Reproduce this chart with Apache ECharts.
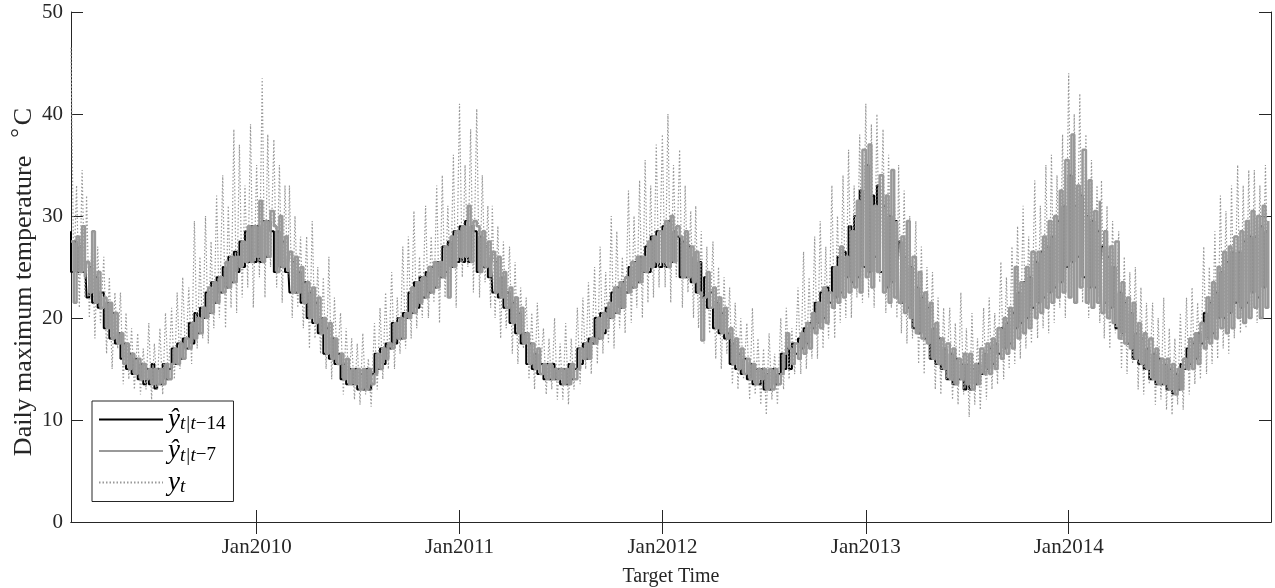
<!DOCTYPE html>
<html>
<head>
<meta charset="utf-8">
<script src="https://cdn.jsdelivr.net/npm/echarts@6/dist/echarts.min.js"></script>
<style>
  html, body { margin: 0; padding: 0; background: #fff; }
  #main { width: 1275px; height: 588px; }
</style>
</head>
<body>
<div id="main"></div>
<script>
// 数据从 2009 年 2 月开始, 每个月读 6 个点 (1,6,11,16,21,26 日)
var startYear = 2009, startMonth = 1;
var dayOffsets = [1, 6, 11, 16, 21, 26];
var yearTicks = [2010, 2011, 2012, 2013, 2014];

// 提前 14 天的预测 (黑线)
var yhat14 = [
  28.5,24.5,27.5,24.5,27,24.5, 26,22,25,21.5,24,21, 22.5,19,21.5,18,20.5,17.5, 18.5,16,17.5,15,16.5,14.5,
  16,14,15.5,13.5,15,13.5, 15.5,13.1,15,13.5,15.5,14, 15,17,15.5,17.5,16,18, 17,19.5,17.5,20.5,18.5,21,
  20,22.5,20.5,23.5,21.5,24, 22.5,25,23,26,23.5,26.5, 24.5,27.5,25,28.5,25.5,29,
  // 2010
  25.5,29,25.5,29.5,26,29.5, 28.5,24.5,28.5,25,27.5,24.5, 26,22.5,25.5,22.5,24.5,21.5, 23.5,20,22.5,19.5,21.5,18.5,
  20,16.5,19,16,18,15.5, 16.5,14,15.5,13.5,15,13.5, 15,13,14.5,13,15,13, 14.5,16.5,15,17,15.5,17.5,
  17,19.5,17.5,20,18,20.5, 20,22.5,20.5,23.5,21,24, 22,24.5,22.5,25,23,25.5, 24,27,24.5,27.5,25,28.5,
  // 2011
  25.5,29,25.5,29.5,25.5,29, 28.5,24.5,28,25,27,24, 26,22.5,25.5,22,24,21, 22.5,19.5,21.5,18.5,20.5,17.5,
  18.5,15.5,17.5,15,16.5,14.5, 15.5,14,15.5,14,15.5,14, 15,13.5,15,13.5,15.5,14, 15,17,15.5,17.5,16,18,
  17.5,20,18,20.5,18.5,21, 20,22.5,20.5,23,21,23.5, 22.5,25,23,25.5,23.5,26, 24.5,27,24.5,28,25,28.5,
  // 2012
  25,29,25,29.5,25.5,28.5, 28,24,27.5,24,27,23.5, 26,22.5,25.5,22,24,21, 22.5,19,21.5,18.5,20.5,18,
  18.5,15.5,17.5,15,16.5,14.5, 16,14,15.5,13.5,15,13.5, 15,13,14.5,13,15,13.5, 14.5,16.5,15,17,15,17.5,
  16.5,18,17,19,17.5,19.5, 19,21.5,19.5,22.5,20,23, 21.5,25,22,26,22.5,26.5, 24,29,23.5,30,24,32.5,
  // 2013
  25,35,24.5,32,26,33, 24.5,31,23,30,23.5,29.5, 22.5,27.5,21.5,26,21,25, 19,23,18.5,22,18,21,
  16,19,15.5,18,15,17, 14,16.5,13.5,16,14,15.5, 13,15.5,13,15,13.5,15.5, 14.5,16.5,15,17,15.5,17.5,
  16.5,19,17,19.5,17.5,20.5, 19,22.5,19.5,23.5,20,24, 21,25.5,21.5,26.5,22,27, 22.5,28,23,29.5,23.5,31,
  // 2014
  25,34,25.5,31,26,32, 24,30,23,29.5,23,28.5, 22,27,21.5,26,21,25, 19,22.5,18.5,21.5,17.5,20.5,
  16,18.5,15.5,18,15,17, 14,16.5,13.5,16,13.5,15.5, 13,15,12.6,14.5,13,15.5, 15,17,15.5,17.5,16,18.5,
  17.5,20.5,18,21.5,18.5,22.5, 20,24.5,20,25.5,20.5,26.5, 21.5,26.5,21,27.5,21.5,28, 22.5,28,22,29,23,28.5
];

// 提前 7 天的预测 (灰线)
var yhat7 = [
  27.5,21.5,28,24.5,29,24, 25.5,22.5,28.5,21.5,24.5,21, 22,19,21.5,18,20.5,17.5, 18.5,15.5,17.5,15,16.5,14.5,
  16,14,15.5,14,15,13.5, 15,13.5,15,13.5,15.5,14, 15.5,17,15.5,17.5,16,18, 17,19.5,18,20,18.5,21,
  20,23,20.5,23.5,21.5,24, 22.5,25.5,23,26,23.5,26, 25,27.5,25.5,29,25.5,29,
  // 2010
  26,31.5,25.5,29.5,26,30.5, 29,24.5,30,25,28,24.5, 26.5,22.5,26,22.5,25,21.5, 23.5,20,23,19.5,22,18.5,
  20,16.5,19.5,16,18,15.5, 16.5,14,16,13.5,15,13.5, 15,13,15,13,15,13.5, 14.5,16.5,15,17,16,17.5,
  17,19.5,18,20,18,20.5, 20,23,20.5,23.5,21.5,24, 22,25,22.5,25.5,23,25.5, 24,27,22,28,25,28.5,
  // 2011
  26,29,26,31,25.5,29.5, 29,24.5,28.5,25,27.5,24, 26.5,22.5,26,22,24.5,21, 23,19.5,22,18.5,21,17.5,
  18.5,15.5,17.5,15,17,14.5, 15.5,14,15.5,14,15,14, 15,13.5,15,13.5,15.5,14, 15,17,16,17.5,16,18,
  17.5,20,18,20.5,19,21.5, 20,23,20.5,23.5,21,24, 22.5,25.5,23,26,23.5,26, 24.5,27.5,25,28,25.5,28.5,
  // 2012
  25.5,29.5,25,30,25.5,29, 28,24,28.5,24,27,23.5, 26.5,22.5,17.8,22,24.5,21, 23,19,22,18.5,21,18,
  19,15.5,18,15,17,14.5, 16,14,15.5,13.5,15,14, 15,13,15,13,15,13.5, 14.5,16.5,18.5,17,15.5,17.5,
  16,18.5,16.5,19.5,17,20.5, 18.5,21.5,19,23,19.5,22.5, 21,25,21.5,27,22,26, 22.5,28.5,23,31.5,22.5,36.5,
  // 2013
  24,37,23,31,24.5,34, 22.5,32,21.5,34.5,22,29.5, 21.5,28,20.5,29.5,20,26, 18.5,24.5,18,22.5,17.5,21.5,
  16,19.5,15.5,18,15,17.5, 14,17,13.5,16,14,16.5, 13.5,16.5,13,15.5,13.5,17, 14.5,17.5,14.5,18,15,19,
  16,20,16.5,21,17,25, 18,23.5,18.5,25,19,26.5, 20,26.5,20.5,28,21,29.5, 21.5,30,22,32.5,22.5,35.5,
  // 2014
  22,38,21.5,33,23,36.5, 21.5,33.5,21,30.5,21.5,31.5, 20.5,28.5,20,27,19.5,27.5, 18,23.5,17.5,22,17,21.5,
  16,19.5,15.5,18.5,15,18, 14,17,13.5,16,13.5,16, 13,15.5,12.5,15,13,16, 15,18,15,18.5,15.5,19.5,
  17,22,17.5,23.5,18,25, 19,26.5,18.5,27,19,28, 20,28.5,19.5,29.5,20,30.5, 21,30,20,31,21,29.5
];

// 实测值 (灰色点线)
var yt = [
  46.5,24,33,21,34.5,22, 32,20,28.5,18,27,19.5, 26,16.5,24,15,22.5,17, 22.5,13.5,20.5,14,19,13,
  18.5,12.5,17,13,19.5,12, 17.5,13,19,12.5,20.5,14, 21,14,22.5,15,24,16, 23,15.5,29.5,17,26,18,
  30,17.5,27.5,19,32,20, 34,19,31,21,38.5,20.5, 37,22,33,23,39,21,
  // 2010
  35,24,43.5,22,38,25, 37.5,23,35,21.5,33,24, 33,20,30,21,28,19, 28,17,29.5,18,25,16.5,
  24,15,26,14,22,15.5, 20.5,12.5,19,13.5,18,12, 17.5,11.5,18.5,12.5,16,11.3, 19.5,13,21,14,22.5,15,
  24.5,15,22,16.5,27,17, 28,18,30.5,19,26,20, 31,20,28,21.5,33,19.5, 34,22,31,23,36,21,
  // 2011
  41,24,35,25,38.5,22.5, 40.5,22,34,23.5,31,21, 31,20,29,18,27.5,19, 27,16.5,25.5,15.5,23,17,
  22,14,20.5,13,21.5,14.5, 19,12.5,18,13,20,12, 17.5,12,19.5,11.5,18,13, 21,13.5,22,15,23.5,14.5,
  25,15.5,27,16.5,24.5,17.5, 30,17,28.5,19,26,18.5, 32.5,19.5,30,21,33.5,20, 35.5,21.5,33,22,37,23,
  // 2012
  38,23,40,21.5,35,24, 36.5,21,33,22.5,30.5,20, 31,19,28.5,17.5,27,18.5, 27.5,16,25,15,24,16.5,
  23,13.5,21.5,13,20,14, 19.5,12,21,12.5,18,11.5, 17,10.5,18.5,12,16.5,11.5, 20,13,21,14,19,14.5,
  23,14.5,26.5,15,24,16, 28,16,29.5,17,27,18, 33,18,30,19.5,34,20, 36.5,20,33,22,38,21.5,
  // 2013
  41,22,39,21,40,23.5, 38.5,20.5,36,21,34,20, 35,18.5,32.5,17.5,30,18, 29.5,15.5,27,14.5,25,16,
  24.5,13,22,12.5,21,14, 21,12,19.5,11.5,22.5,12.5, 19,10.3,20.5,11.5,18,11, 21,12,22,13,20.5,13.5,
  25.5,14,24,15,27,15.5, 29,16,31,17,28,17.5, 33.5,18,31,19,35,18.5, 36,19.5,34,21,38,20,
  // 2014
  44,22,40,23,42,21.5, 38,20,35.5,21.5,33,19.5, 33.5,18,31,17,29.5,18.5, 28.5,15,26,14.5,24.5,15.5,
  25,13,23,12.5,21.5,13.5, 21.5,11.5,20,12,22,11, 19,10.5,18,11.5,20.5,11, 22,12.5,23,13.5,21.5,14,
  27,14.5,25,15.5,28.5,16, 32,17,30.5,16.5,33,18, 35,18.5,33,19,34.5,20, 34.5,19.5,33,21,35,22
];

(function () {
  var myChart = echarts.init(document.getElementById('main'));
  var font = "'Liberation Serif', 'DejaVu Serif', serif";
  var axisColor = '#262626';

  // 数组下标 -> 日期 (毫秒)
  function toPairs(values) {
    return values.map(function (v, i) {
      var m = Math.floor(i / dayOffsets.length);
      var d = dayOffsets[i % dayOffsets.length];
      return [new Date(startYear, startMonth + m, d).getTime(), v];
    });
  }
  var xMin = new Date(2009, 1, 1).getTime();
  var xMax = new Date(2014, 11, 31).getTime();
  var tickValues = yearTicks.map(function (y) { return new Date(y, 0, 1).getTime(); });

  var legendText = {
    yhat14: '{h|ŷ}{s|t|t}{n|−14}',
    yhat7: '{h|ŷ}{s|t|t}{n|−7}',
    yt: '{h|y}{s|t}'
  };

  function tick() {
    return { inside: true, length: 12, lineStyle: { color: axisColor } };
  }
  function xTick() {
    var t = tick();
    t.customValues = tickValues;
    return t;
  }

  var option = {
    animation: false,
    backgroundColor: '#fff',
    grid: { left: 71, right: 4, top: 12, bottom: 66, outerBoundsMode: 'none' },
    legend: {
      orient: 'vertical',
      left: 92,
      top: 401,
      padding: [5, 8, 5, 6],
      itemGap: 4,
      itemWidth: 64,
      itemHeight: 14,
      borderColor: axisColor,
      borderWidth: 1,
      borderRadius: 0,
      backgroundColor: '#fff',
      itemStyle: { opacity: 0 },
      data: ['yhat14', 'yhat7', 'yt'],
      formatter: function (name) { return legendText[name]; },
      textStyle: {
        rich: {
          h: { fontFamily: font, fontStyle: 'italic', fontSize: 27, lineHeight: 28, color: '#000' },
          s: { fontFamily: font, fontStyle: 'italic', fontSize: 19, lineHeight: 18, verticalAlign: 'bottom', color: '#000' },
          n: { fontFamily: font, fontSize: 19, lineHeight: 18, verticalAlign: 'bottom', color: '#000' }
        }
      }
    },
    xAxis: [
      {
        type: 'value',
        min: xMin,
        max: xMax,
        axisLine: { lineStyle: { color: axisColor } },
        axisTick: xTick(),
        axisLabel: {
          customValues: tickValues,
          formatter: function (v) { return 'Jan' + new Date(v).getFullYear(); },
          fontFamily: font,
          fontSize: 21,
          color: axisColor,
          margin: 15
        },
        splitLine: { show: false },
        name: 'Target Time',
        nameLocation: 'middle',
        nameGap: 45,
        nameMoveOverlap: false,
        nameTextStyle: { fontFamily: font, fontSize: 20, color: axisColor }
      },
      {
        type: 'value',
        position: 'top',
        min: xMin,
        max: xMax,
        axisLine: { lineStyle: { color: axisColor } },
        axisTick: xTick(),
        axisLabel: { show: false },
        splitLine: { show: false }
      }
    ],
    yAxis: [
      {
        type: 'value',
        min: 0,
        max: 50,
        interval: 10,
        axisLine: { show: true, lineStyle: { color: axisColor } },
        axisTick: tick(),
        axisLabel: { fontFamily: font, fontSize: 21, color: axisColor, margin: 8 },
        splitLine: { show: false },
        name: '{a|Daily maximum temperature}{d|°}{a|C}',
        nameLocation: 'middle',
        nameGap: 32,
        nameMoveOverlap: false,
        nameTextStyle: {
          padding: [0, 30, 0, 0],
          rich: {
            a: { fontFamily: font, fontSize: 26, color: axisColor, lineHeight: 30 },
            d: { fontFamily: font, fontSize: 24, color: axisColor, lineHeight: 30, padding: [0, 3, 8, 18], verticalAlign: 'top' }
          }
        }
      },
      {
        type: 'value',
        position: 'right',
        min: 0,
        max: 50,
        interval: 10,
        axisLine: { show: true, lineStyle: { color: axisColor } },
        axisTick: tick(),
        axisLabel: { show: false },
        splitLine: { show: false }
      }
    ],
    series: [
      {
        name: 'yhat14',
        type: 'line',
        data: toPairs(yhat14),
        symbol: 'none',
        step: 'start',
        silent: true,
        lineStyle: { color: '#000', width: 2 },
        itemStyle: { color: '#000' }
      },
      {
        name: 'yhat7',
        type: 'line',
        data: toPairs(yhat7),
        symbol: 'none',
        step: 'end',
        silent: true,
        lineStyle: { color: '#999', width: 2.5 },
        itemStyle: { color: '#999' }
      },
      {
        name: 'yt',
        type: 'line',
        data: toPairs(yt),
        symbol: 'none',
        silent: true,
        lineStyle: { color: '#999', width: 1.2, type: [1.5, 2] },
        itemStyle: { color: '#999' }
      }
    ]
  };
  myChart.setOption(option);
})();
</script>
</body>
</html>
